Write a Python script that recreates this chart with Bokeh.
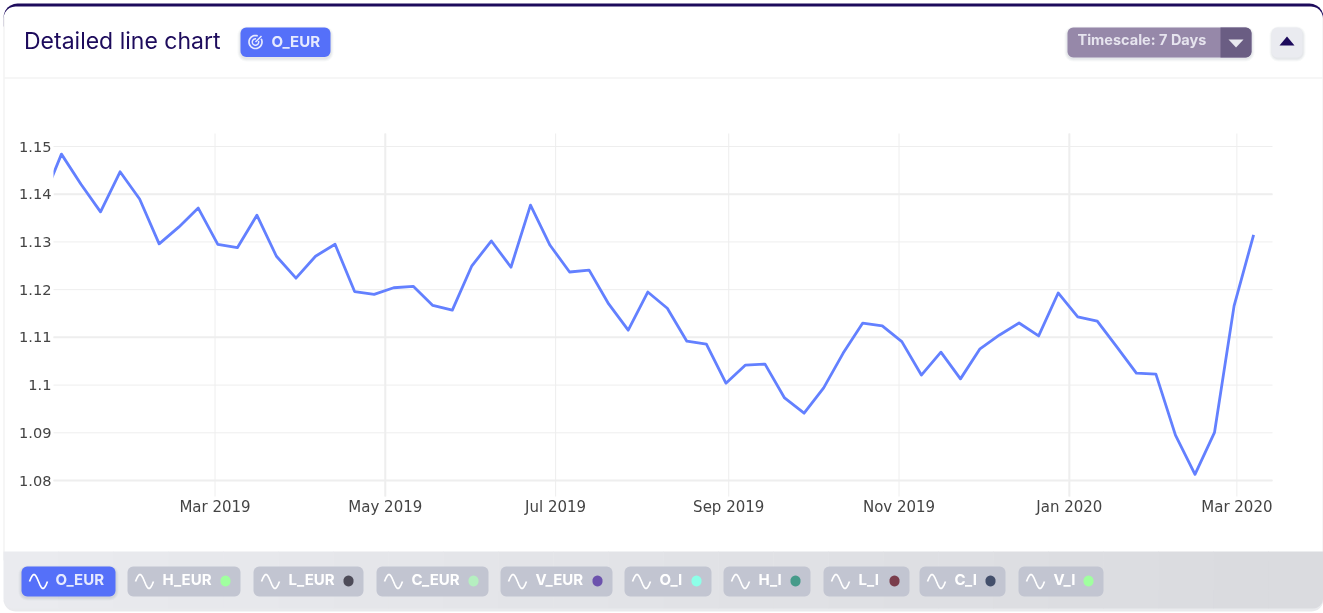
import numpy as np
from datetime import datetime, timedelta
from bokeh.plotting import figure
from bokeh.embed import file_html
from bokeh.resources import INLINE
from bokeh.models import (Label, PolyAnnotation, Range1d, LinearAxis, DatetimeAxis,
                          FixedTicker, NumeralTickFormatter, DatetimeTickFormatter)

start_date = "2018-12-29"
o_eur = [1.1383, 1.1484, 1.1421, 1.1363, 1.1447, 1.1390, 1.1296, 1.1331, 1.1371, 1.1295, 1.1288,
         1.1356, 1.1270, 1.1224, 1.1270, 1.1295, 1.1196, 1.1190, 1.1204, 1.1207, 1.1167, 1.1157,
         1.1250, 1.1302, 1.1247, 1.1377, 1.1293, 1.1237, 1.1241, 1.1170, 1.1115, 1.1195, 1.1161,
         1.1092, 1.1086, 1.1004, 1.1042, 1.1044, 1.0973, 1.0941, 1.0994, 1.1067, 1.1130, 1.1124,
         1.1091, 1.1021, 1.1069, 1.1013, 1.1076, 1.1105, 1.1130, 1.1103, 1.1193, 1.1143, 1.1134,
         1.1080, 1.1025, 1.1023, 1.0895, 1.0813, 1.0901, 1.1166, 1.1315]
y_ticks = [1.08, 1.09, 1.10, 1.11, 1.12, 1.13, 1.14, 1.15]
x_tick_dates = ["2019-03-01", "2019-05-01", "2019-07-01", "2019-09-01", "2019-11-01", "2020-01-01", "2020-03-01"]
heavy_y_ticks = [1.08, 1.11, 1.14]
heavy_x_dates = ["2019-05-01", "2020-01-01"]
legend_names = ["O_EUR", "H_EUR", "L_EUR", "C_EUR", "V_EUR", "O_I", "H_I", "L_I", "C_I", "V_I"]
legend_dots = [None, "#a0ff9f", "#4d4b58", "#b5efc0", "#6c52ad", "#8dffe8", "#469b8a", "#7a3d4c", "#434f6b", "#a0ff9f"]

W, H = 1323, 613
L, R, T, B = 53, 1272, 133, 496

DAY = 86400000.0
def ms(s):
    return (datetime.strptime(s, "%Y-%m-%d") - datetime(1970, 1, 1)).total_seconds() * 1000.0
def x_at(px):
    return ms("2019-03-01") + (px - 214.5) / 2.792 * DAY
def y_at(px):
    return 1.15 - (px - 146) * 0.07 / 334.0

dates = [ms(start_date) + 7 * DAY * i for i in range(len(o_eur))]

p = figure(width=W, height=H, output_backend="svg", toolbar_location=None,
           x_axis_type=None, y_axis_type=None,
           x_range=Range1d(x_at(0), x_at(W)), y_range=Range1d(y_at(H), y_at(0)),
           min_border_left=0, min_border_right=0, min_border_top=0, min_border_bottom=0,
           styles={"position": "fixed", "left": "0px", "top": "0px"},
           background_fill_color=None, border_fill_color="white",
           outline_line_color=None)

yax = LinearAxis(ticker=FixedTicker(ticks=y_ticks), formatter=NumeralTickFormatter(format="0.0[0]"),
                 fixed_location=x_at(L), level="overlay",
                 axis_line_color=None, major_tick_line_color=None, minor_tick_line_color=None,
                 major_label_text_font="DejaVu Sans", major_label_text_font_size="14.6px",
                 major_label_text_color="#444444", major_label_standoff=-4)
xticks = [ms(d) for d in x_tick_dates]
fmt = "%b %Y"
xax = DatetimeAxis(ticker=FixedTicker(ticks=xticks), fixed_location=y_at(B),
                   formatter=DatetimeTickFormatter(days=fmt, months=fmt, years=fmt, hours=fmt, minutes=fmt, seconds=fmt),
                   axis_line_color=None, major_tick_line_color=None, minor_tick_line_color=None,
                   major_label_text_font="DejaVu Sans", major_label_text_font_size="15px",
                   major_label_text_color="#444444", major_label_standoff=-5)
p.add_layout(yax, "left")
p.add_layout(xax, "below")

# grid lines, through the scales, bounded to the plot area
GRID = "#eeeeee"
for ticks, w in [(y_ticks, 1), (heavy_y_ticks, 2)]:
    p.segment(x0=[x_at(L)] * len(ticks), x1=[x_at(R)] * len(ticks), y0=ticks, y1=ticks,
              line_color=GRID, line_width=w, level="underlay")
for ticks, w in [(xticks, 1), ([ms(d) for d in heavy_x_dates], 2)]:
    p.segment(x0=ticks, x1=ticks, y0=[y_at(B)] * len(ticks), y1=[y_at(T)] * len(ticks),
              line_color=GRID, line_width=w, level="underlay")

p.line(dates, o_eur, line_color="#6380ff", line_width=2.8, line_join="round")

def poly(xs, ys, fill=None, line=None, lw=1.5, alpha=1.0, level="annotation"):
    p.add_layout(PolyAnnotation(xs=[float(v) for v in xs], ys=[float(v) for v in ys], xs_units="canvas", ys_units="canvas",
                                fill_color=fill, fill_alpha=alpha if fill else 0,
                                line_color=line, line_alpha=1 if line else 0, line_width=lw, level=level))

def box(l, t, r, b, color, radius=0, alpha=1.0, level="annotation"):
    """Rounded rectangle as a polygon in canvas pixels; radius is a number or (tl, tr, br, bl)."""
    rad = radius if isinstance(radius, tuple) else (radius,) * 4
    corners = [(l + rad[0], t + rad[0], 180, rad[0]), (r - rad[1], t + rad[1], 270, rad[1]),
               (r - rad[2], b - rad[2], 0, rad[2]), (l + rad[3], b - rad[3], 90, rad[3])]
    xs, ys = [], []
    for cx, cy, a0, rr in corners:
        for a in np.radians(np.linspace(a0, a0 + 90, 7)):
            xs.append(cx + rr * np.cos(a))
            ys.append(cy + rr * np.sin(a))
    poly(xs, ys, fill=color, alpha=alpha, level=level)

def shadow(l, t, r, b, radius=6):
    for grow, a in [(3, 0.04), (2, 0.05), (1, 0.06)]:
        box(l - grow, t + 2 - grow, r + grow, b + 2 + grow, "#555a70", radius=radius + grow, alpha=a)

def text(x, y, s, size, color, font="Inter", style="bold", align="left"):
    p.add_layout(Label(x=x, y=y, x_units="canvas", y_units="canvas", text=s, text_font=font,
                       text_font_size=f"{size}px", text_color=color, text_font_style=style,
                       text_align=align, text_baseline="middle"))

def stroke(xs, ys, color, lw):
    xs, ys = np.asarray(xs), np.asarray(ys)
    poly(np.r_[xs, xs[::-1]], np.r_[ys, ys[::-1]], line=color, lw=lw)

def sine(x, y, color):
    t = np.linspace(0, 1, 15)
    stroke(x + 18 * t, y + 1 - 7 * np.sin(2 * np.pi * t), color, 1.7)

# card
box(3, 3, 1323, 26, "#1d0b5c", radius=(14, 14, 0, 0), level="image")
box(3, 6, 1322.5, 560, "white", radius=(12, 12, 0, 0), level="image")
box(3, 16, 4, 560, "#eeeeee", level="image")
box(1322, 16, 1323, 560, "#eeeeee", level="image")
box(4, 77, 1322, 78, "#eeeeee", level="image")
# keeps the line inside the plot area on the left
box(30, 165, L, 205, "white")
# footer with horizontal shade
box(3, 590, 1323, 611, "#cfd0d6", radius=12, alpha=0.45, level="image")
n = 24
for i in range(n):
    a = i / (n - 1)
    c = "#%02x%02x%02x" % (int(234 - 16 * a), int(235 - 16 * a), int(239 - 16 * a))
    l = 3 + 1319.5 * i / n
    r = 3 + 1319.5 * (i + 1) / n
    rad = (0, 0, 0, 10) if i == 0 else (0, 0, 10, 0) if i == n - 1 else 0
    box(l, 551, r + (0 if i == n - 1 else 0.5), 608, c, radius=rad, level="image")

# header
text(23.5, 40, "Detailed line chart", 23, "#1d0b5c", font="Inter", style="normal")
shadow(240, 27, 330, 56)
box(240, 27, 330, 56.5, "#5570f9", radius=6)
a1 = np.radians(np.linspace(-30, 290, 30))
stroke(255 + 6.5 * np.cos(a1), 41.5 + 6.5 * np.sin(a1), "#e6eafe", 1.7)
a2 = np.radians(np.linspace(-20, 280, 24))
stroke(255 + 3.2 * np.cos(a2), 41.5 + 3.2 * np.sin(a2), "#e6eafe", 1.5)
stroke([255, 261], [41.5, 35.5], "#e6eafe", 1.5)
text(271, 41, "O_EUR", 15, "#e6eafe")

shadow(1067, 27, 1251, 56)
box(1067, 27, 1251, 57, "#9688a9", radius=6)
box(1220, 27, 1251, 57, "#6a5d83", radius=(0, 6, 6, 0))
text(1077, 39, "Timescale: 7 Days", 14.5, "#e6e4ee")
poly([1228, 1243, 1235.5], [39, 39, 47], fill="#e9e9ef")

shadow(1272, 27, 1302, 56)
box(1271, 27, 1302, 57, "#eaebf0", radius=6)
poly([1279, 1294, 1286.5], [45, 45, 36], fill="#1d0b5c")

# legend chips
chips = [(21, 115), (127, 240), (253, 363), (376, 488), (500, 612), (624, 711), (723, 810), (823, 909), (919, 1005), (1018, 1103)]
for name, dot, (l, r) in zip(legend_names, legend_dots, chips):
    active = dot is None
    if active:
        shadow(l, 566, r, 595)
    box(l, 566, r, 596, "#5570f9" if active else "#c2c5d1", radius=6)
    sine(l + 8, 580, "white")
    text(l + 34 if l < 30 else l + 35, 579, name, 15, "#e6eafe" if active else "white")
    if dot:
        box(r - 20, 575, r - 10, 586, dot, radius=5)

open("out.html", "w").write(file_html(p, INLINE))
